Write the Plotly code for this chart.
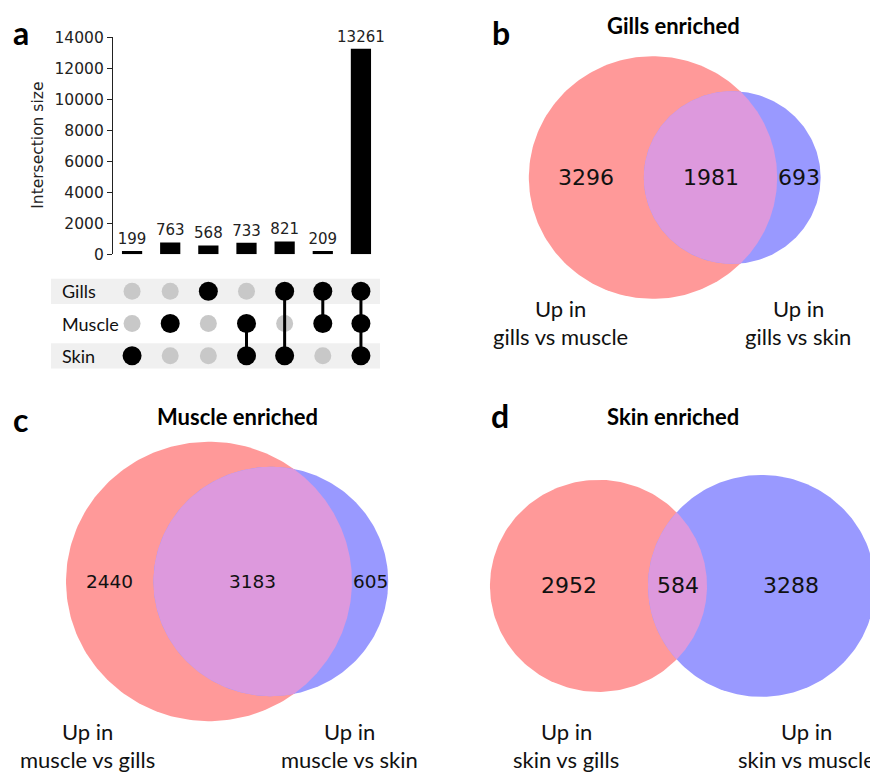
import numpy as np
import plotly.graph_objects as go

W, H = 870, 780

# ---------------- data ----------------
upset_sets = ["Gills", "Muscle", "Skin"]
upset_sizes = [199, 763, 568, 733, 821, 209, 13261]
upset_members = [
    ["Skin"],
    ["Muscle"],
    ["Gills"],
    ["Muscle", "Skin"],
    ["Gills", "Skin"],
    ["Gills", "Muscle"],
    ["Gills", "Muscle", "Skin"],
]
upset_yticks = [0, 2000, 4000, 6000, 8000, 10000, 12000, 14000]

venn_titles = ["Gills enriched", "Muscle enriched", "Skin enriched"]
venn_letters = ["b", "c", "d"]
# counts: [A only, B only, A and B]
venn_b_counts = [3296, 693, 1981]
venn_c_counts = [2440, 605, 3183]
venn_d_counts = [2952, 3288, 584]
venn_b_setlabels = [["Up in", "gills vs muscle"], ["Up in", "gills vs skin"]]
venn_c_setlabels = [["Up in", "muscle vs gills"], ["Up in", "muscle vs skin"]]
venn_d_setlabels = [["Up in", "skin vs gills"], ["Up in", "skin vs muscle"]]

# ---------------- styling ----------------
RED = "#ff9999"
BLUE = "#9999ff"
MIX = "#dd99dd"
TXT_FONT = "Lato"
MPL_FONT = "DejaVu Sans"


def px(x):
    return x / W


def py(y):
    return 1 - y / H


fig = go.Figure()
annotations = []
shapes = []

# ---------------- panel a : UpSet ----------------
ncol = len(upset_sizes)
xs = list(range(ncol))
fig.add_trace(go.Bar(
    x=xs, y=upset_sizes, width=0.53, marker=dict(color="black", line=dict(width=0)),
    text=[str(v) for v in upset_sizes], textposition="outside", cliponaxis=False,
    constraintext="none", textfont=dict(family=MPL_FONT, size=15, color="#222"),
    xaxis="x", yaxis="y", hoverinfo="skip", showlegend=False))

row_of = {"Skin": 0, "Muscle": 1, "Gills": 2}
# background bands
for s in ["Gills", "Skin"]:
    r = row_of[s]
    shapes.append(dict(type="rect", xref="paper", yref="y2", x0=px(51), x1=px(380),
                       y0=r - 0.39, y1=r + 0.39, fillcolor="#f0f0f0",
                       line=dict(width=0), layer="below"))
gx, gy = [], []
bx, by = [], []
for i, mem in enumerate(upset_members):
    for s in upset_sets:
        if s in mem:
            bx.append(i); by.append(row_of[s])
        else:
            gx.append(i); gy.append(row_of[s])
fig.add_trace(go.Scatter(x=gx, y=gy, mode="markers", marker=dict(size=17, color="#c8c8c8"),
                         xaxis="x2", yaxis="y2", hoverinfo="skip", showlegend=False))
for i, mem in enumerate(upset_members):
    if len(mem) > 1:
        rows = [row_of[s] for s in mem]
        fig.add_trace(go.Scatter(x=[i, i], y=[min(rows), max(rows)], mode="lines",
                                 line=dict(color="black", width=3),
                                 xaxis="x2", yaxis="y2", hoverinfo="skip", showlegend=False))
fig.add_trace(go.Scatter(x=bx, y=by, mode="markers", marker=dict(size=19, color="black"),
                         xaxis="x2", yaxis="y2", hoverinfo="skip", showlegend=False))
for s in upset_sets:
    annotations.append(dict(xref="paper", yref="y2", x=px(60), y=row_of[s], text=s,
                            showarrow=False, xanchor="left", yanchor="middle",
                            font=dict(family=TXT_FONT, size=18, color="#111")))

annotations.append(dict(xref="paper", yref="paper", x=px(38), y=py(140), text="Intersection size",
                        textangle=-90, showarrow=False, xanchor="center", yanchor="middle",
                        font=dict(family=MPL_FONT, size=15.5, color="#222")))
annotations.append(dict(xref="paper", yref="paper", x=px(21), y=py(24), text="<b>a</b>",
                        showarrow=False, xanchor="center", yanchor="middle",
                        font=dict(family=TXT_FONT, size=32, color="black")))

upset_layout = dict(
    xaxis=dict(domain=[px(113), px(380)], range=[-0.5, ncol - 0.5], visible=False, fixedrange=True),
    yaxis=dict(domain=[py(251), py(29)], range=[0, 14000], tickvals=upset_yticks,
               ticktext=[str(v) for v in upset_yticks],
               showline=True, linecolor="#222", linewidth=1.2, ticks="outside", ticklen=5,
               tickcolor="#222", showgrid=False, zeroline=False, anchor="x",
               tickfont=dict(family=MPL_FONT, size=15.5, color="#222")),
    xaxis2=dict(domain=[px(113), px(380)], range=[-0.5, ncol - 0.5], visible=False, anchor="y2"),
    yaxis2=dict(domain=[py(371.5), py(272.5)], range=[-0.5, 2.5], visible=False, anchor="x2"),
)


# ---------------- Venn panels ----------------
def lens_area(d, r1, r2):
    if d >= r1 + r2:
        return 0.0
    if d <= abs(r1 - r2):
        return np.pi * min(r1, r2) ** 2
    a1 = r1 ** 2 * np.arccos((d * d + r1 * r1 - r2 * r2) / (2 * d * r1))
    a2 = r2 ** 2 * np.arccos((d * d + r2 * r2 - r1 * r1) / (2 * d * r2))
    a3 = 0.5 * np.sqrt((-d + r1 + r2) * (d + r1 - r2) * (d - r1 + r2) * (d + r1 + r2))
    return a1 + a2 - a3


def solve_d(r1, r2, ov):
    lo, hi = abs(r1 - r2) + 1e-9, r1 + r2
    for _ in range(200):
        mid = (lo + hi) / 2
        if lens_area(mid, r1, r2) > ov:
            lo = mid
        else:
            hi = mid
    return (lo + hi) / 2


def arc(cx, cy, r, t0, t1, n=240):
    t = np.linspace(t0, t1, n)
    return list(cx + r * np.cos(t)), list(cy + r * np.sin(t))


# panel geometry (pixels): axes box, A-centre pixel, pixels per unit
venn_panels = [
    dict(counts=venn_b_counts, setlabels=venn_b_setlabels, box=(482, 40, 870, 300), ca=(653, 172.5),
         scale=3.03, numsize=22, title_xy=(673, 17), letter_xy=(501, 24),
         lab_xy=[(560, 307, 335), (798, 307, 335)]),
    dict(counts=venn_c_counts, setlabels=venn_c_setlabels, box=(40, 435, 435, 735), ca=(209, 586),
         scale=3.38, numsize=18.5, title_xy=(237, 417), letter_xy=(20, 420),
         lab_xy=[(87, 740, 768), (349, 740, 768)]),
    dict(counts=venn_d_counts, setlabels=venn_d_setlabels, box=(470, 435, 870, 735), ca=(598.5, 590.5),
         scale=3.235, numsize=22, title_xy=(673, 417), letter_xy=(500, 416),
         lab_xy=[(566, 740, 768), (806, 740, 768)]),
]

venn_layout = {}
for k, P in enumerate(venn_panels):
    ax = k + 3
    xa, ya = f"x{ax}", f"y{ax}"
    a_only, b_only, ab = P["counts"]
    rA = np.sqrt((a_only + ab) / np.pi)
    rB = np.sqrt((b_only + ab) / np.pi)
    d = solve_d(rA, rB, ab)
    cxA, cxB = 0.0, d
    x, y = arc(cxA, 0, rA, 0, 2 * np.pi)
    fig.add_trace(go.Scatter(x=x, y=y, fill="toself", fillcolor=RED, mode="lines", line=dict(width=0),
                             xaxis=xa, yaxis=ya, hoverinfo="skip", showlegend=False))
    x, y = arc(cxB, 0, rB, 0, 2 * np.pi)
    fig.add_trace(go.Scatter(x=x, y=y, fill="toself", fillcolor=BLUE, mode="lines", line=dict(width=0),
                             xaxis=xa, yaxis=ya, hoverinfo="skip", showlegend=False))
    xi = (d * d + rA * rA - rB * rB) / (2 * d)
    yi = np.sqrt(max(rA * rA - xi * xi, 0))
    tA = np.arctan2(yi, xi)
    tB = np.arctan2(yi, xi - d)
    x1, y1 = arc(cxA, 0, rA, -tA, tA)
    x2, y2 = arc(cxB, 0, rB, tB, 2 * np.pi - tB)
    fig.add_trace(go.Scatter(x=x1 + x2, y=y1 + y2, fill="toself", fillcolor=MIX, mode="lines",
                             line=dict(width=0), xaxis=xa, yaxis=ya, hoverinfo="skip", showlegend=False))
    lA, rAe = cxA - rA, cxA + rA
    lB, rBe = cxB - rB, cxB + rB
    pos = [(lA + lB) / 2, (rBe + rAe) / 2, (lB + rAe) / 2]
    for val, xp in zip(P["counts"], pos):
        annotations.append(dict(xref=xa, yref=ya, x=xp, y=0, text=str(val), showarrow=False,
                                xanchor="center", yanchor="middle",
                                font=dict(family=MPL_FONT, size=P["numsize"], color="#111")))
    bl, bt, br, bb = P["box"]
    cpx, cpy = P["ca"]
    s = P["scale"]
    venn_layout[f"xaxis{ax}"] = dict(domain=[px(bl), px(br)], range=[(bl - cpx) / s, (br - cpx) / s],
                                     visible=False, anchor=ya)
    venn_layout[f"yaxis{ax}"] = dict(domain=[py(bb), py(bt)], range=[(cpy - bb) / s, (cpy - bt) / s],
                                     visible=False, anchor=xa)
    tx, ty = P["title_xy"]
    annotations.append(dict(xref="paper", yref="paper", x=px(tx), y=py(ty), text=f"<b>{venn_titles[k]}</b>",
                            showarrow=False, xanchor="center", yanchor="middle",
                            font=dict(family=TXT_FONT, size=22, color="black")))
    lx, ly = P["letter_xy"]
    annotations.append(dict(xref="paper", yref="paper", x=px(lx), y=py(ly), text=f"<b>{venn_letters[k]}</b>",
                            showarrow=False, xanchor="center", yanchor="middle",
                            font=dict(family=TXT_FONT, size=32, color="black")))
    for lines, (sx, sy1, sy2) in zip(P["setlabels"], P["lab_xy"]):
        for txt, sy in zip(lines, (sy1, sy2)):
            annotations.append(dict(xref="paper", yref="paper", x=px(sx), y=py(sy), text=txt,
                                    showarrow=False, xanchor="center", yanchor="middle",
                                    font=dict(family=TXT_FONT, size=22, color="#111")))

fig.update_layout(
    width=W, height=H, autosize=False,
    margin=dict(l=0, r=0, t=0, b=0, pad=0),
    paper_bgcolor="white", plot_bgcolor="rgba(0,0,0,0)",
    showlegend=False, annotations=annotations, shapes=shapes,
    **upset_layout, **venn_layout,
)

fig.write_html("out.html")
